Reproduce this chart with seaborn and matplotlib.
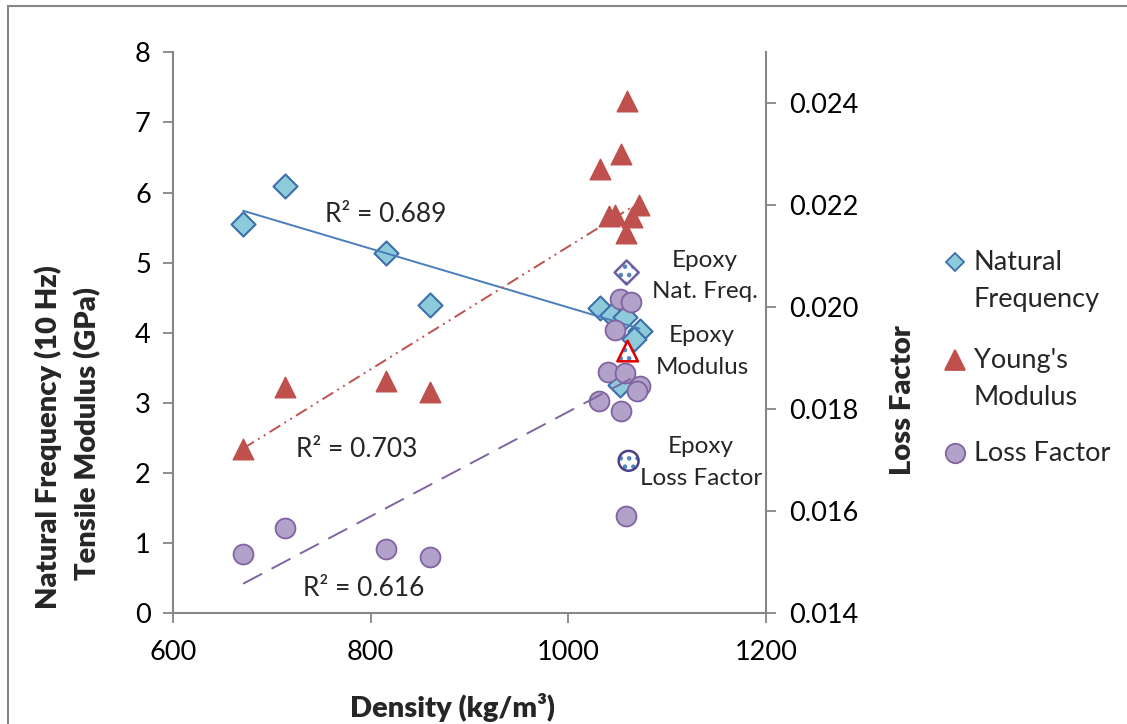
import numpy as np
import pandas as pd
import matplotlib
matplotlib.use("Agg")
import matplotlib.pyplot as plt
import seaborn as sns
from matplotlib.lines import Line2D
from matplotlib.patches import Rectangle

# ---------------- data ----------------
nf_density = [671, 713, 816, 860, 1032, 1044, 1057, 1073, 1066, 1052]
nf_values = [5.55, 6.10, 5.14, 4.40, 4.36, 4.26, 4.23, 4.02, 3.91, 3.26]

ym_density = [671, 713, 816, 860, 1032, 1053, 1059, 1041, 1047, 1071, 1064, 1058]
ym_values = [2.34, 3.22, 3.31, 3.16, 6.33, 6.55, 7.31, 5.67, 5.68, 5.82, 5.65, 5.42]

lf_density = [671, 713, 816, 860, 1052, 1063, 1047, 1040, 1057, 1073, 1069, 1031, 1053, 1058]
lf_values = [0.01516, 0.01567, 0.01526, 0.01511, 0.02016, 0.02011, 0.01956, 0.01873,
             0.01871, 0.01845, 0.01835, 0.01817, 0.01796, 0.01590]

epoxy_nf_density = [1059]
epoxy_nf_value = [4.86]
epoxy_ym_density = [1060]
epoxy_ym_value = [3.74]
epoxy_lf_density = [1061]
epoxy_lf_value = [0.01699]

trend_density = [671, 1072]
trend_nf = [5.74, 4.06]
trend_ym = [2.35, 5.86]
trend_lf = [0.01458, 0.01869]

r2_labels = ["R² = 0.689", "R² = 0.703", "R² = 0.616"]
epoxy_labels = ["Epoxy\nNat. Freq.", "Epoxy\nModulus", "Epoxy\nLoss Factor"]
legend_labels = ["Natural\nFrequency", "Young's\nModulus", "Loss Factor"]

x_ticks = [600, 800, 1000, 1200]
y_ticks = [0, 1, 2, 3, 4, 5, 6, 7, 8]
lf_ticks = [0.014, 0.016, 0.018, 0.020, 0.022, 0.024]
lf_tick_labels = ["0.014", "0.016", "0.018", "0.020", "0.022", "0.024"]

# ---------------- style ----------------
sns.set_theme(style="white")
FONT = ["Lato", "DejaVu Sans"]
plt.rcParams["font.family"] = FONT
plt.rcParams["hatch.linewidth"] = 2.0

W, H = 1127, 724
fig = plt.figure(figsize=(W / 100, H / 100), dpi=100)

def fx(px):
    return px / W

def fy(py):
    return 1 - py / H

ax = fig.add_axes([fx(173), fy(613.3), fx(766) - fx(173), fy(52.3) - fy(613.3)])
ax2 = ax.twinx()

NF_FACE, NF_EDGE, NF_LINE = "#8DCBDB", "#3D6FAB", "#4A7EBB"
YM_C = "#C0504D"
LF_FACE, LF_EDGE = "#B2A1C8", "#8064A2"
AX_GRAY = "#868686"

MS_D = 150
MS_T = 220
MS_O = 205

# primary axis series
sns.scatterplot(x=nf_density, y=nf_values, ax=ax, marker="D", s=MS_D,
                color=NF_FACE, edgecolor=NF_EDGE, linewidth=1.5, zorder=3)
sns.scatterplot(x=ym_density, y=ym_values, ax=ax, marker="^", s=MS_T,
                color=YM_C, edgecolor=YM_C, linewidth=1.0, zorder=3)
sns.lineplot(x=trend_density, y=trend_nf, ax=ax, color=NF_LINE, linewidth=1.4, zorder=4)
sns.lineplot(x=trend_density, y=trend_ym, ax=ax, color=YM_C, linewidth=1.4,
             linestyle=(0, (6.5, 2.5, 1, 2.5, 1, 2.5)), zorder=4)

# epoxy (patterned) markers on primary axis
sns.scatterplot(x=epoxy_nf_density, y=epoxy_nf_value, ax=ax, marker="D", s=MS_D,
                facecolor="white", edgecolor="#4F81BD", linewidth=0, hatch="..", zorder=5)
sns.scatterplot(x=epoxy_nf_density, y=epoxy_nf_value, ax=ax, marker="D", s=MS_D,
                facecolor="none", edgecolor="#6A5EA6", linewidth=1.8, zorder=5)
sns.scatterplot(x=epoxy_ym_density, y=epoxy_ym_value, ax=ax, marker="^", s=MS_T,
                facecolor="white", edgecolor="#4F81BD", linewidth=0, hatch="..", zorder=5)
sns.scatterplot(x=epoxy_ym_density, y=epoxy_ym_value, ax=ax, marker="^", s=MS_T,
                facecolor="none", edgecolor="#E00000", linewidth=1.8, zorder=5)

# secondary axis series
sns.scatterplot(x=lf_density, y=lf_values, ax=ax2, marker="o", s=MS_O,
                color=LF_FACE, edgecolor=LF_EDGE, linewidth=1.3, zorder=3)
sns.lineplot(x=trend_density, y=trend_lf, ax=ax2, color=LF_EDGE, linewidth=1.4,
             linestyle=(0, (11, 5.5)), zorder=4)
sns.scatterplot(x=epoxy_lf_density, y=epoxy_lf_value, ax=ax2, marker="o", s=MS_O,
                facecolor="white", edgecolor="#4F81BD", linewidth=0, hatch="..", zorder=5)
sns.scatterplot(x=epoxy_lf_density, y=epoxy_lf_value, ax=ax2, marker="o", s=MS_O,
                facecolor="none", edgecolor="#4B3F86", linewidth=1.8, zorder=5)

# ---------------- axes ----------------
ax.set_xlim(600, 1200)
ax.set_ylim(0, 8)
ax2.set_ylim(0.014, 0.025)
ax.set_xticks(x_ticks)
ax.set_yticks(y_ticks)
ax2.set_yticks(lf_ticks)
ax2.set_yticklabels(lf_tick_labels)
ax.set_xlabel("")
ax.set_ylabel("")
ax2.set_ylabel("")

TICK_FS = 19.5
for a in (ax, ax2):
    a.set_facecolor("none")
    for s in a.spines.values():
        s.set_color(AX_GRAY)
        s.set_linewidth(1.5)
    a.spines["top"].set_visible(False)
ax.spines["right"].set_visible(False)
ax2.spines["left"].set_visible(False)
ax2.spines["bottom"].set_visible(False)

ax.tick_params(axis="x", which="major", direction="out", length=7, width=1.3,
               color=AX_GRAY, bottom=True, labelsize=TICK_FS, pad=12, labelcolor="black")
ax.tick_params(axis="y", which="major", direction="out", length=7, width=1.3,
               color=AX_GRAY, left=True, labelsize=TICK_FS, pad=9, labelcolor="black")
ax2.tick_params(axis="y", which="major", direction="out", length=7, width=1.3,
                color=AX_GRAY, right=True, labelsize=TICK_FS, pad=10, labelcolor="black")
ax.grid(False)
ax2.grid(False)

# ---------------- texts ----------------
LAB_FS = 21
fig.text(fx(48), fy(437), "Natural Frequency (10 Hz)", rotation=90, ha="center", va="center",
         fontsize=LAB_FS, fontweight="heavy")
fig.text(fx(88), fy(433), "Tensile Modulus (GPa)", rotation=90, ha="center", va="center",
         fontsize=LAB_FS, fontweight="heavy")
fig.text(fx(903), fy(400), "Loss Factor", rotation=90, ha="center", va="center",
         fontsize=LAB_FS, fontweight="heavy")
fig.text(fx(452), fy(707), "Density (kg/m³)", ha="center", va="center",
         fontsize=LAB_FS, fontweight="heavy")

R2_FS = 19
for (px, py), lab in zip([(386, 214), (357, 449), (364, 589)], r2_labels):
    fig.text(fx(px), fy(py), lab, ha="center", va="center", fontsize=R2_FS)

EP_FS = 17.5
for (px, py), lab in zip([(705, 276), (702, 351.5), (701, 462.5)], epoxy_labels):
    fig.text(fx(px), fy(py), lab, ha="center", va="center", fontsize=EP_FS,
             linespacing=1.6)

# ---------------- legend (manual, marker aligned to first line) ----------------
leg_rows = [(261.7, "D", NF_FACE, NF_EDGE, 9.5), (360, "^", YM_C, YM_C, 14), (453.3, "o", LF_FACE, LF_EDGE, 14)]
for (py, mk, fc, ec, ms), lab in zip(leg_rows, legend_labels):
    fig.add_artist(Line2D([fx(955)], [fy(py)], marker=mk, markersize=ms, markerfacecolor=fc,
                          markeredgecolor=ec, markeredgewidth=1.3, linestyle="none",
                          transform=fig.transFigure))
    yc = py + 19 if "\n" in lab else py
    fig.text(fx(974), fy(yc), lab, ha="left", va="center",
             fontsize=TICK_FS, linespacing=1.6,
             transform=fig.transFigure)

# outer border (left and top edges visible)
fig.add_artist(Rectangle((fx(8), -0.05), 1.2, fy(6) + 0.05, transform=fig.transFigure,
                         fill=False, edgecolor=AX_GRAY, linewidth=1.5))

fig.savefig("out.png", dpi=100)
